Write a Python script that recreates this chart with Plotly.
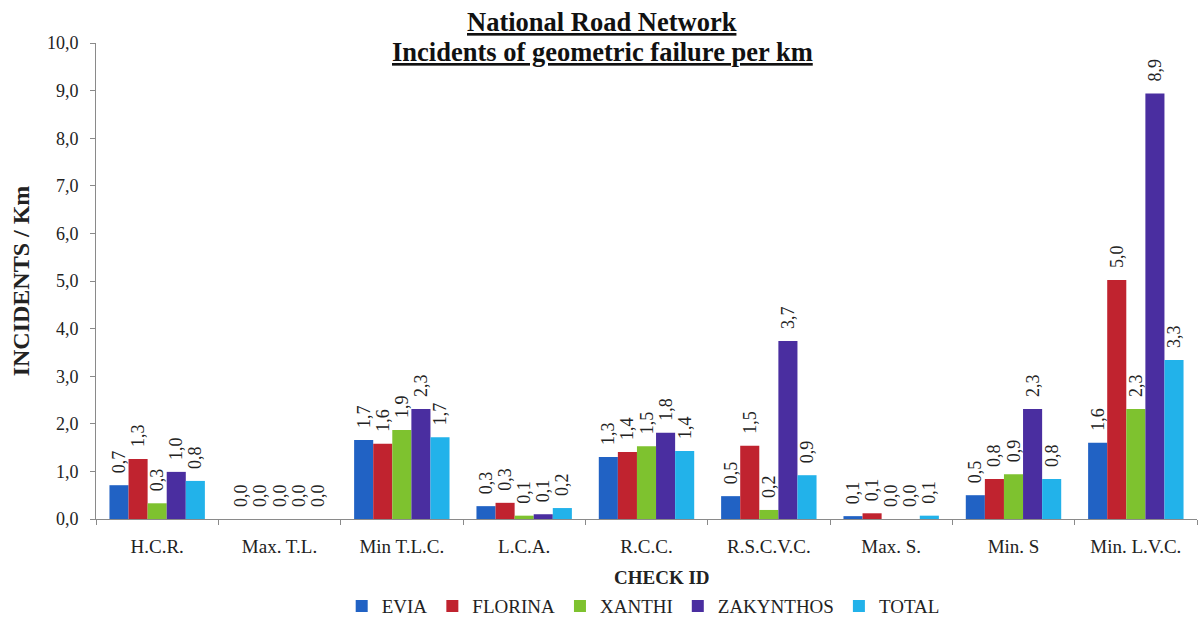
import plotly.graph_objects as go

categories = ["H.C.R.", "Max. T.L.", "Min T.L.C.", "L.C.A.", "R.C.C.", "R.S.C.V.C.", "Max. S.", "Min. S", "Min. L.V.C."]
evia      = [0.71, 0.0, 1.66, 0.27, 1.30, 0.48, 0.06, 0.50, 1.60]
florina   = [1.26, 0.0, 1.58, 0.34, 1.41, 1.54, 0.12, 0.84, 5.02]
xanthi    = [0.33, 0.0, 1.87, 0.07, 1.53, 0.19, 0.0, 0.94, 2.31]
zakynthos = [0.99, 0.0, 2.31, 0.10, 1.81, 3.74, 0.0, 2.31, 8.94]
total     = [0.80, 0.0, 1.72, 0.23, 1.43, 0.92, 0.07, 0.84, 3.34]

series = [
    ("EVIA", evia, "#2162C4"),
    ("FLORINA", florina, "#C0232F"),
    ("XANTHI", xanthi, "#7EC22F"),
    ("ZAKYNTHOS", zakynthos, "#4A2EA0"),
    ("TOTAL", total, "#22B2EA"),
]

FONT = "Liberation Serif, Times New Roman, serif"
INK = "#222222"

fig = go.Figure()
for name, vals, color in series:
    fig.add_trace(go.Bar(
        x=categories, y=vals, name=name,
        marker=dict(color=color, line=dict(width=0)),
        texttemplate="\u00a0\u00a0%{y:.1f}", textposition="outside", textangle=-90,
        constraintext="none", cliponaxis=False,
        textfont=dict(family=FONT, size=18, color=INK),
    ))

fig.update_layout(
    width=1199, height=619,
    paper_bgcolor="white", plot_bgcolor="white",
    separators=",.",
    barmode="group", bargap=0.22, bargroupgap=0.0,
    margin=dict(l=96, r=2, t=43, b=100, autoexpand=False),
    font=dict(family=FONT, size=18, color=INK),
    showlegend=True,
    legend=dict(orientation="h", x=0.497, xanchor="center",
                y=-0.183, yanchor="middle",
                font=dict(family=FONT, size=19, color=INK),
                itemwidth=30, tracegroupgap=0),
    xaxis=dict(
        showline=True, linecolor="#8a8a8a", linewidth=1,
        ticks="outside", tickson="boundaries", ticklen=5, tickcolor="#8a8a8a",
        ticklabelstandoff=10,
        tickfont=dict(family=FONT, size=19, color=INK),
    ),
    yaxis=dict(
        range=[0, 10], dtick=1, tickformat=".1f",
        showline=True, linecolor="#8a8a8a", linewidth=1,
        ticks="outside", ticklen=5, tickcolor="#8a8a8a",
        ticklabelstandoff=8,
        showgrid=False, zeroline=False,
        tickfont=dict(family=FONT, size=18, color=INK),
        title=dict(text="<b>INCIDENTS / Km</b>", font=dict(family=FONT, size=24, color=INK), standoff=10),
    ),
)

# x-axis title
fig.add_annotation(
    text="<b>CHECK ID</b>", xref="paper", yref="paper",
    x=(662 - 96) / 1101, y=0, yshift=-(577 - 519), xanchor="center", yanchor="middle",
    showarrow=False, font=dict(family=FONT, size=19, color=INK),
)

# two-line underlined title
title_x = (602 - 96) / 1101
fig.add_annotation(
    text="<b><u>National Road Network</u></b>", xref="paper", yref="paper",
    x=title_x, y=1.0, yshift=21.5, xanchor="center", yanchor="middle",
    showarrow=False, font=dict(family=FONT, size=26.5, color="#111111"),
)
fig.add_annotation(
    text="<b><u>Incidents of geometric failure per km</u></b>", xref="paper", yref="paper",
    x=title_x, y=1.0, yshift=-8.5, xanchor="center", yanchor="middle",
    showarrow=False, font=dict(family=FONT, size=26.5, color="#111111"),
)

fig.write_html("out.html")
